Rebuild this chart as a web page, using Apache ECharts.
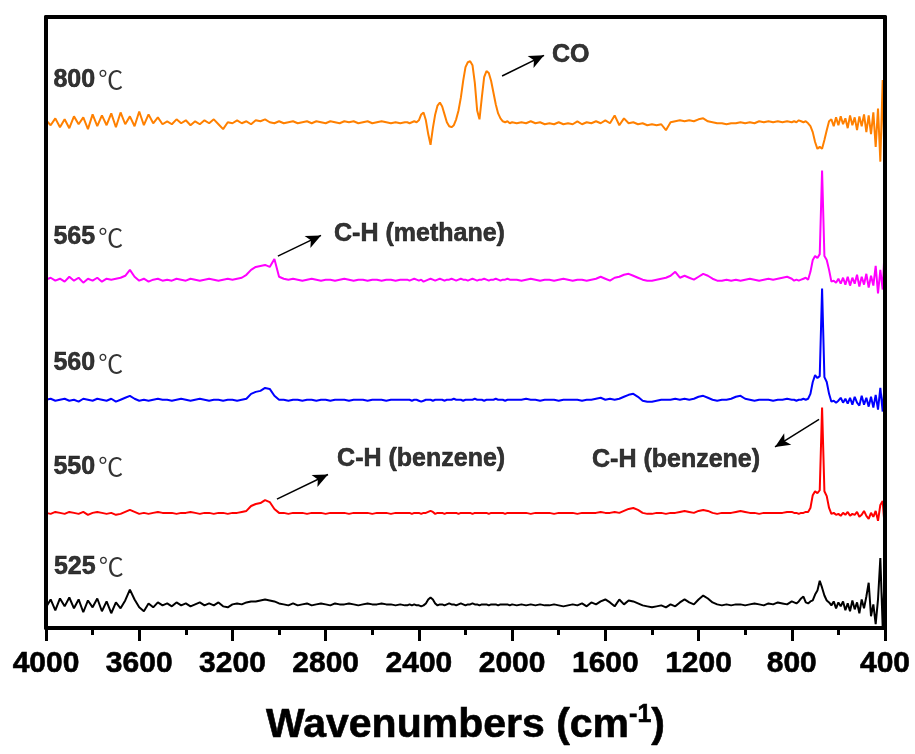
<!DOCTYPE html>
<html>
<head>
<meta charset="utf-8">
<script src="https://cdn.jsdelivr.net/npm/echarts@6/dist/echarts.min.js"></script>
<style>html,body{margin:0;padding:0;background:#fff}#c{width:915px;height:754px}</style>
</head>
<body>
<div id="c"></div>
<script>
// ---- sampling grid (wavenumber, cm-1), reading resolution of the figure ----
function seg(a, b, step) { const out = []; for (let v = a; v >= b; v -= step) out.push(v); return out; }
const wavenumbers = [].concat(seg(4000, 2460, 20), seg(2450, 2010, 10), seg(2000, 800, 20), seg(790, 400, 10));

// ---- series names & vertical offsets (stacked spectra, arbitrary units) ----
const seriesNames = ['800℃', '565℃', '560℃', '550℃', '525℃'];
const offsets = [514, 354, 232, 117, 24];

// ---- spectra (deviation from each baseline) ----
const s800 = [
  2,-3,4,-5,3,-6,6,-2,5,-7,8,-4,7,-3,9,-5,10,-2,6,-4,11,-3,8,-1,5,-2,
  1,-2,3,-1,2,-3,1,-2,2,-1, 3,-2,-7,0,-1,2,-1,1,-2,2, 1,3,0,-1,1,-1,0,1,-1,0, 1,-1,1,0,-1,1,0,-1,1,0, 1,-1,0,1,-1,0,1,0,-1,0, -1,0,
  0,-1,0,1,0,2,8,10,2,-12, -23,-6,8,17,20,16,8,0,-4,-5, -3,3,12,25,42,56,61,62,58,40, 12,3,25,46,52,50,42,30,18,9, 4,1,0,1,-1,
  0,-1,0,-1,1,-1,0,-2,-1,-2, 0,-2,-1,-2,1,-2,0,-1,1,-1, 2,-1,7,-3,4,-1,0,-2,-1,-3, -2,-3,-2,-8,0,1,2,1,2,1, 3,4,1,0,-1,-1,-2,-1,-1,0, -1,0,-1,1,0,1,0,1,0,1, 0,
  1,0,2,1,0,1,-1,-4,-10,-20, -27,-25,-27,-18,-8,1,3,-4,5,-3, 6,-2,4,-6,7,-3,5,-8,6,-4, 8,-10,7,-12,10,-25,14,-40,43,-64
];
const s565 = [
  0,2,-1,1,-2,3,-1,2,-3,1, -1,2,-2,1,0,1,2,4,10,3, -1,1,-2,0,1,-1,
  0,-1,1,0,-1,1,0,-1,0,1, 0,-1,0,1,0,1,2,5,10,13, 14,15,13,21,3,1,0,1,0,-1, 0,1,0,-1,0,0,-1,0,1,0, -1,0,0,-1,0,0,-1,0,0,-1, 0,0,
  0,-1,0,1,0,-1,0,-2,-1,0, 1,0,-1,0,1,0,-1,0,0,1, 0,-1,0,1,0,0,-1,0,1,0, -1,0,0,1,0,-1,0,0,1,0, -1,0,0,1,0,
  0,0,-1,0,1,0,-1,0,0,-1, 0,1,0,-1,0,0,-1,0,1,3, 1,-1,2,3,5,6,4,2,0,-1, -1,0,1,2,4,8,2,4,2,0, 3,6,4,1,-1,-1,0,-1,0,-1, 0,1,0,-1,0,1,0,1,2,3, 1,
  -1,0,-1,0,1,2,0,8,20,24, 22,26,111,24,20,10,-2,-1,-3,1, -4,2,-5,3,-6,2,-4,5,-7,3, -5,6,-8,4,-6,14,-14,10,-10,38
];
const s560 = [
  0,1,-1,0,1,-1,0,-2,1,0, -1,1,0,-1,1,-2,0,2,4,1, -1,0,-1,0,1,0,
  0,-1,0,1,0,-1,0,1,0,-1, 0,0,-1,0,0,-1,0,1,6,8, 9,12,11,4,0,0,-1,0,0,-1, 0,0,-1,0,0,-1,0,0,0,-1, 0,0,0,-1,0,0,0,-1,0,0, 0,0,
  0,0,-1,0,0,-1,-2,-1,0,0, 0,-1,0,0,0,0,-1,0,0,0, 1,0,0,0,-1,0,0,0,0,1, 0,0,0,-1,0,0,0,0,1,0, 0,0,-1,0,0,
  0,0,0,1,0,0,-1,0,0,0, -1,0,0,0,0,-1,0,0,1,2, 0,1,0,1,3,5,6,3,-1,-2, -2,-1,0,0,0,1,0,1,0,1, 3,4,2,0,-1,0,0,1,3,4, 1,0,-1,0,0,0,-1,0,0,1, 0,
  0,-1,0,0,1,0,1,6,18,25, 22,24,113,23,18,6,-2,-1,-3,-1, 2,-3,1,-4,2,-5,3,-3,-6,4, -5,2,-7,3,-8,5,-10,12,-12,22
];
const s550 = [
  0,-1,1,0,-1,1,0,-1,1,-2, 0,1,0,-1,0,-2,-1,1,3,1, -1,0,-1,0,1,0,
  0,0,-1,0,0,1,0,-1,0,0, -1,0,0,-1,0,0,1,2,7,9, 10,13,11,4,0,0,-1,0,0,0, -1,0,0,0,-1,0,0,0,0,-1, 0,0,0,0,-1,0,0,0,-1,0, 0,0,
  0,0,-1,0,0,0,-1,0,0,1, 2,1,-1,0,0,0,-1,0,0,0, 0,0,-1,0,0,0,0,0,-1,0, 0,0,0,0,0,-1,0,0,0,0, 0,0,-1,0,0,
  0,0,0,0,-1,0,0,0,0,-1, 0,0,0,0,-1,0,0,0,0,1, 0,0,1,0,2,4,5,3,0,-1, -1,0,0,-1,0,0,1,2,1,0, 2,3,2,0,-1,0,0,0,1,2, 1,0,0,-1,0,0,0,0,0,1, 1,
  0,0,-1,0,0,1,1,5,18,22, 20,23,107,22,17,5,-1,0,-2,-1, -3,0,-2,1,-3,-1,-2,1,-4,-2, 2,-3,-6,0,-4,2,-8,8,12,-18
];
const s525 = [
  -3,5,-6,6,-2,7,-4,5,-8,4, -3,6,-7,3,-9,2,-4,4,15,5, -3,-7,1,-3,2,-1,
  1,-2,2,-1,1,-2,0,2,-1,1, -1,2,-2,-3,0,1,0,2,3,3, 4,5,4,3,1,0,-1,1,-1,0, 1,-1,0,1,0,-1,1,0,0,1, 0,-1,0,1,0,0,1,0,0,-1, 0,-1,
  -1,0,-1,0,-1,-1,-2,-1,1,5, 7,5,1,-1,0,0,-1,0,1,0, 0,-1,0,1,0,-1,0,0,1,0, 0,-1,0,0,0,-1,0,0,0,-1, 0,0,0,0,-1,
  0,-1,0,-1,0,-1,0,-1,-1,0, -1,-2,-1,0,-1,1,-2,2,0,3, 5,2,-2,5,0,4,3,1,-1,-2, -3,-2,-1,-3,0,-2,2,5,2,0, 5,9,6,2,0,-1,0,-1,0,0, -1,0,1,0,-1,1,0,2,1,0, 3,
  2,1,3,6,8,2,1,3,4,10, 14,24,17,9,4,2,-1,3,-4,2, -2,3,-6,1,-7,4,-5,2,-9,5, -4,8,22,-12,0,-20,5,47,-23,40
];
const spectra = [s800, s565, s560, s550, s525];
const colors = ['#FF8000', '#FF00FF', '#0000FF', '#FF0000', '#000000'];

// ---- tick labels ----
const xTicks = [4000, 3600, 3200, 2800, 2400, 2000, 1600, 1200, 800, 400];

// ---- annotations (data space: wavenumber, intensity) ----
const seriesLabelPos = [[3968, 557], [3968, 397], [3968, 269], [3968, 164], [3966, 62]];
const noteTexts = ['CO', 'C-H (methane)', 'C-H (benzene)', 'C-H (benzene)'];
const notePos = [[1829, 582], [2764, 400], [2751, 172], [1657, 171]];
const arrowFrom = [[2043, 561], [3005, 378], [3009, 131], [683, 212]];
const arrowTo = [[1863, 582], [2820, 399], [2790, 156], [872, 184]];

spectra.forEach((s, i) => { if (s.length !== wavenumbers.length) console.error('length mismatch', i, s.length, wavenumbers.length); });

const chart = echarts.init(document.getElementById('c'), null, { renderer: 'canvas' });
const FONT = 'Liberation Sans, Arial, sans-serif';
const HEAVY = { textBorderColor: '#000', textBorderWidth: 0.6 };
const FRAME = { show: true, onZero: false, lineStyle: { color: '#000', width: 4 } };

const lineSeries = spectra.map((s, k) => ({
  type: 'line',
  name: seriesNames[k],
  data: wavenumbers.map((w, i) => [w, offsets[k] + s[i]]),
  showSymbol: false,
  symbol: 'none',
  lineStyle: { color: colors[k], width: 2 },
  itemStyle: { color: colors[k] },
  z: 5 - k,
  silent: true
}));

const labelSeries = {
  type: 'scatter',
  silent: true,
  symbolSize: 0,
  itemStyle: { color: '#000' },
  data: seriesNames.map((n, k) => [seriesLabelPos[k][0], seriesLabelPos[k][1], n]),
  label: {
    show: true, position: 'right', distance: 0, color: '#000',
    formatter: p => '{a|' + p.data[2].replace('℃', '') + '}{b|℃}',
    rich: {
      a: Object.assign({ fontFamily: FONT, fontWeight: 'bold', fontSize: 25, color: '#000' }, HEAVY),
      b: { fontFamily: 'Noto Sans CJK SC', fontWeight: 'normal', fontSize: 25, color: '#000', padding: [0, 0, 0, 3] }
    }
  },
  z: 10
};

const noteSeries = {
  type: 'scatter',
  silent: true,
  symbolSize: 0,
  itemStyle: { color: '#000' },
  data: noteTexts.map((t, k) => [notePos[k][0], notePos[k][1], t]),
  label: Object.assign({
    show: true, position: 'right', distance: 0,
    formatter: p => p.data[2],
    fontFamily: FONT, fontWeight: 'bold', fontSize: 25, color: '#000'
  }, HEAVY),
  markLine: {
    silent: true,
    symbol: ['none', 'arrow'],
    symbolSize: [10, 15],
    label: { show: false },
    lineStyle: { color: '#000', width: 1.5, type: 'solid' },
    data: arrowFrom.map((f, k) => [{ coord: f }, { coord: arrowTo[k] }])
  },
  z: 10
};

chart.setOption({
  animation: false,
  backgroundColor: '#fff',
  grid: { left: 46, right: 30, top: 17, bottom: 116, show: false },
  xAxis: [{
    type: 'value',
    position: 'bottom',
    min: 400, max: 4000, interval: 400,
    inverse: true,
    axisLine: FRAME,
    axisTick: { show: true, inside: false, length: 13, lineStyle: { color: '#000', width: 3 } },
    minorTick: { show: true, splitNumber: 2, length: 7, lineStyle: { color: '#000', width: 3 } },
    splitLine: { show: false },
    axisLabel: Object.assign({
      margin: 21,
      fontFamily: FONT, fontWeight: 'bold', fontSize: 30, color: '#000',
      formatter: v => xTicks.includes(v) ? String(v) : ''
    }, HEAVY),
    name: 'Wavenumbers (cm{sup|-1})',
    nameLocation: 'middle',
    nameGap: 75,
    nameTextStyle: Object.assign({
      fontFamily: FONT, fontWeight: 'bold', fontSize: 41, color: '#000', lineHeight: 46,
      rich: { sup: Object.assign({ fontFamily: FONT, fontWeight: 'bold', fontSize: 25, color: '#000', verticalAlign: 'top', lineHeight: 46, padding: [0, 0, 20, 0] }, HEAVY) }
    }, HEAVY),
    z: 20
  }, {
    type: 'value',
    position: 'top',
    min: 400, max: 4000, interval: 400,
    inverse: true,
    axisLine: FRAME,
    axisTick: { show: false },
    axisLabel: { show: false },
    splitLine: { show: false },
    z: 20
  }],
  yAxis: [{
    type: 'value', position: 'left', min: 0, max: 621,
    axisLine: FRAME, axisTick: { show: false }, axisLabel: { show: false },
    splitLine: { show: false }, z: 20
  }, {
    type: 'value', position: 'right', min: 0, max: 621,
    axisLine: FRAME, axisTick: { show: false }, axisLabel: { show: false },
    splitLine: { show: false }, z: 20
  }],
  series: lineSeries.concat([labelSeries, noteSeries])
});
</script>
</body>
</html>
